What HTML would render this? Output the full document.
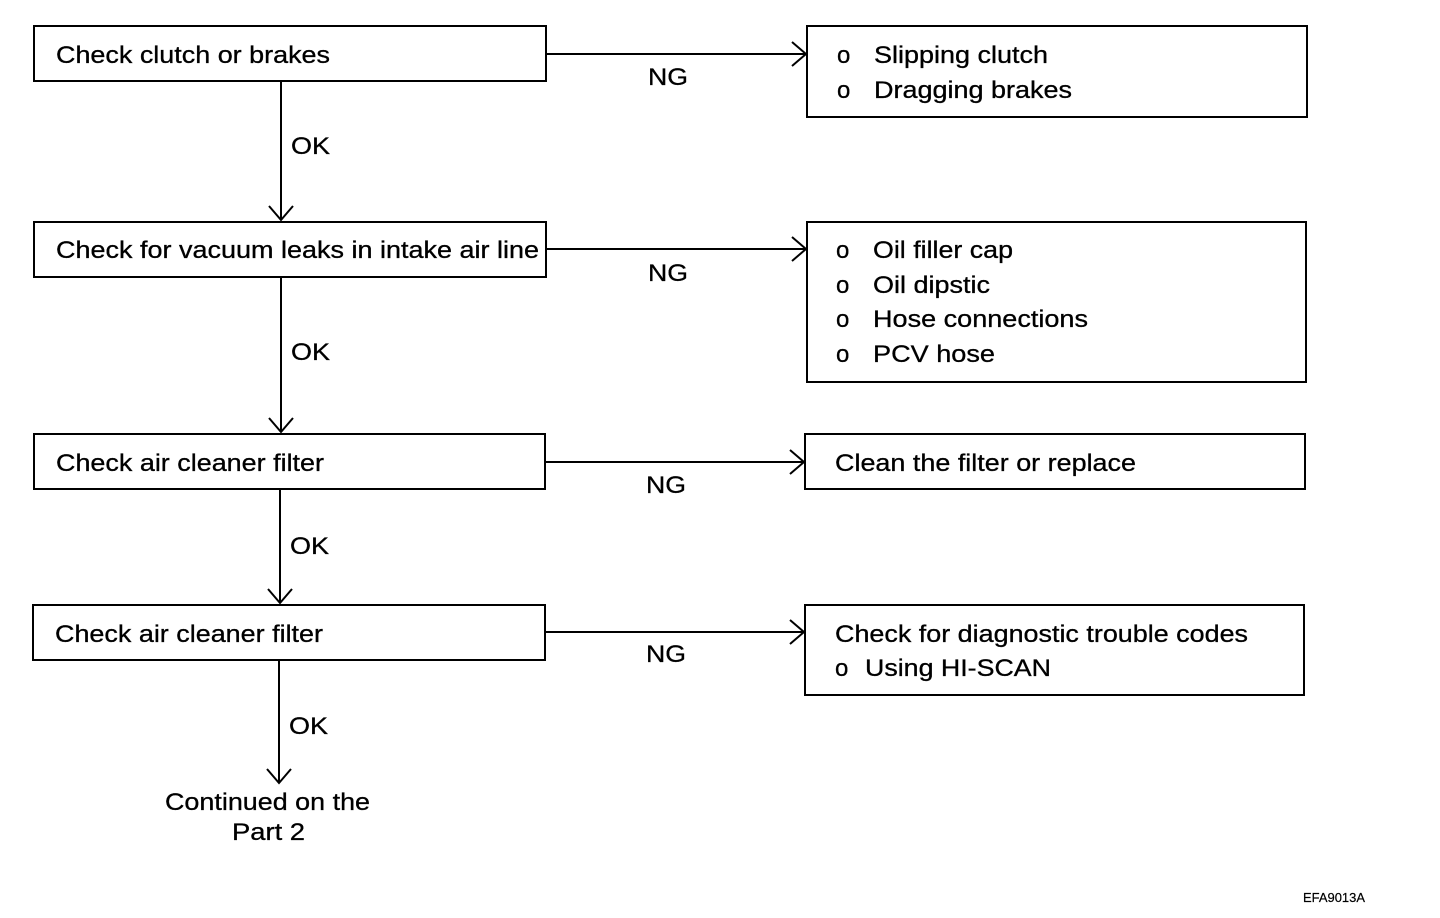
<!DOCTYPE html>
<html><head><meta charset="utf-8"><style>
html,body{margin:0;padding:0;background:#fff;}
svg{display:block;}
text{font-family:"Liberation Sans",sans-serif;font-size:24px;fill:#000;stroke:#000;stroke-width:0.3;}
</style></head><body>
<svg width="1440" height="918" viewBox="0 0 1440 918" xmlns="http://www.w3.org/2000/svg">
<g fill="none" stroke="#000" stroke-width="2">
<rect x="34" y="26" width="512" height="55"/>
<rect x="807" y="26" width="500" height="91"/>
<rect x="34" y="222" width="512" height="55"/>
<rect x="807" y="222" width="499" height="160"/>
<rect x="34" y="434" width="511" height="55"/>
<rect x="805" y="434" width="500" height="55"/>
<rect x="33" y="605" width="512" height="55"/>
<rect x="805" y="605" width="499" height="90"/>
<path d="M281 81V220M269 206L281 220L293 206"/>
<path d="M281 277V432M269 418L281 432L293 418"/>
<path d="M280 489V603M268 589L280 603L292 589"/>
<path d="M279 660V783M267 769L279 783L291 769"/>
<path d="M546 54H806M792 42L806 54L792 66"/>
<path d="M546 249H806M792 237L806 249L792 261"/>
<path d="M545 462H804M790 450L804 462L790 474"/>
<path d="M545 632H804M790 620L804 632L790 644"/>
</g>
<g style="font-size:25px">
<text x="56" y="63" textLength="274" lengthAdjust="spacingAndGlyphs">Check clutch or brakes</text>
<text x="56" y="258" textLength="483" lengthAdjust="spacingAndGlyphs">Check for vacuum leaks in intake air line</text>
<text x="56" y="471" textLength="268" lengthAdjust="spacingAndGlyphs">Check air cleaner filter</text>
<text x="55" y="642" textLength="268" lengthAdjust="spacingAndGlyphs">Check air cleaner filter</text>
<text x="291" y="154" textLength="39" lengthAdjust="spacingAndGlyphs">OK</text>
<text x="291" y="360" textLength="39" lengthAdjust="spacingAndGlyphs">OK</text>
<text x="290" y="554" textLength="39" lengthAdjust="spacingAndGlyphs">OK</text>
<text x="289" y="734" textLength="39" lengthAdjust="spacingAndGlyphs">OK</text>
<text x="648" y="85" textLength="40" lengthAdjust="spacingAndGlyphs">NG</text>
<text x="648" y="281" textLength="40" lengthAdjust="spacingAndGlyphs">NG</text>
<text x="646" y="493" textLength="40" lengthAdjust="spacingAndGlyphs">NG</text>
<text x="646" y="662" textLength="40" lengthAdjust="spacingAndGlyphs">NG</text>
<text x="837" y="63">o</text><text x="874" y="63" textLength="174" lengthAdjust="spacingAndGlyphs">Slipping clutch</text>
<text x="837" y="98">o</text><text x="874" y="98" textLength="198" lengthAdjust="spacingAndGlyphs">Dragging brakes</text>
<text x="836" y="258">o</text><text x="873" y="258" textLength="140" lengthAdjust="spacingAndGlyphs">Oil filler cap</text>
<text x="836" y="293">o</text><text x="873" y="293" textLength="117" lengthAdjust="spacingAndGlyphs">Oil dipstic</text>
<text x="836" y="327">o</text><text x="873" y="327" textLength="215" lengthAdjust="spacingAndGlyphs">Hose connections</text>
<text x="836" y="362">o</text><text x="873" y="362" textLength="122" lengthAdjust="spacingAndGlyphs">PCV hose</text>
<text x="835" y="471" textLength="301" lengthAdjust="spacingAndGlyphs">Clean the filter or replace</text>
<text x="835" y="642" textLength="413" lengthAdjust="spacingAndGlyphs">Check for diagnostic trouble codes</text>
<text x="835" y="676">o</text><text x="865" y="676" textLength="186" lengthAdjust="spacingAndGlyphs">Using HI-SCAN</text>
<text x="165" y="810" textLength="205" lengthAdjust="spacingAndGlyphs">Continued on the</text>
<text x="232" y="840" textLength="73" lengthAdjust="spacingAndGlyphs">Part 2</text>
</g>
<text x="1303" y="902" style="font-size:13px;stroke-width:0.2" textLength="62" lengthAdjust="spacingAndGlyphs">EFA9013A</text>
</svg>
</body></html>
